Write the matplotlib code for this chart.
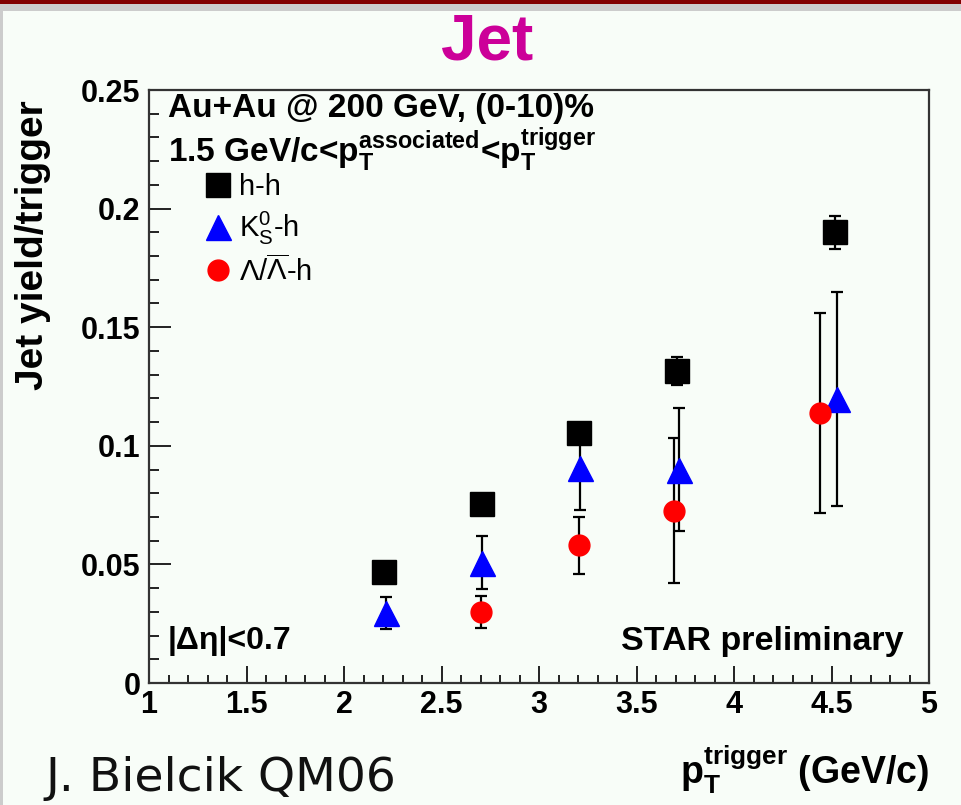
import matplotlib
matplotlib.use("Agg")
import matplotlib.pyplot as plt
from matplotlib.lines import Line2D
from matplotlib.patches import Rectangle
from matplotlib.ticker import MultipleLocator, FixedFormatter, FixedLocator

plt.rcParams['font.family'] = ['Liberation Sans', 'DejaVu Sans']
plt.rcParams['mathtext.fontset'] = 'custom'
plt.rcParams['mathtext.rm'] = 'Liberation Sans'
plt.rcParams['mathtext.it'] = 'Liberation Sans'
plt.rcParams['mathtext.bf'] = 'Liberation Sans:bold'

# ---- data ----
hh_x = [2.205, 2.71, 3.205, 3.71, 4.52]
hh_y = [0.047, 0.0756, 0.1055, 0.1315, 0.190]
hh_err = [0.003, 0.004, 0.004, 0.006, 0.007]

k0s_x = [2.214, 2.71, 3.21, 3.72, 4.53]
k0s_y = [0.0296, 0.0508, 0.0905, 0.0900, 0.1197]
k0s_err = [0.0067, 0.011, 0.0175, 0.026, 0.045]

lam_x = [2.70, 3.205, 3.69, 4.44]
lam_y = [0.0300, 0.058, 0.0726, 0.1138]
lam_err = [0.0067, 0.012, 0.0305, 0.042]

x_ticks = [1, 1.5, 2, 2.5, 3, 3.5, 4, 4.5, 5]
x_tick_labels = ["1", "1.5", "2", "2.5", "3", "3.5", "4", "4.5", "5"]
y_ticks = [0, 0.05, 0.1, 0.15, 0.2, 0.25]
y_tick_labels = ["0", "0.05", "0.1", "0.15", "0.2", "0.25"]

labels = ["h-h", r"K$^{0}_{S}$-h", r"$\Lambda/\overline{\Lambda}$-h"]

bg = '#f8fdf8'
W, H = 961, 805
fig = plt.figure(figsize=(W / 100, H / 100), dpi=100, facecolor=bg)

# slide frame decorations
fig.patches.append(Rectangle((0, 1 - 4 / H), 1, 4 / H, transform=fig.transFigure,
                             facecolor='#820000', edgecolor='none', zorder=0))
fig.patches.append(Rectangle((0, 1 - 11 / H), 1, 7 / H, transform=fig.transFigure,
                             facecolor='#cccccc', edgecolor='none', zorder=0))
fig.patches.append(Rectangle((0, 0), 2.5 / W, 1 - 11 / H, transform=fig.transFigure,
                             facecolor='#cccccc', edgecolor='none', zorder=0))

ax = fig.add_axes([149 / W, 1 - 683 / H, 780 / W, 593 / H])
ax.set_facecolor(bg)
ax.set_xlim(1, 5)
ax.set_ylim(0, 0.25)

ekw = dict(ecolor='black', elinewidth=1.6, capsize=4, capthick=1.6, linestyle='none')
ax.errorbar(hh_x, hh_y, yerr=hh_err, marker='s', ms=17, mfc='black', mec='black', zorder=3, **ekw)
ax.errorbar(k0s_x, k0s_y, yerr=k0s_err, marker='^', ms=18, mfc='#0000ff', mec='#0000ff', zorder=4, **ekw)
ax.errorbar(lam_x, lam_y, yerr=lam_err, marker='o', ms=15, mfc='#ff0000', mec='#ff0000', zorder=4, **ekw)

for s in ax.spines.values():
    s.set_color('#333333')
    s.set_linewidth(1.6)

ax.xaxis.set_major_locator(FixedLocator(x_ticks))
ax.xaxis.set_major_formatter(FixedFormatter(x_tick_labels))
ax.xaxis.set_minor_locator(MultipleLocator(0.1))
ax.yaxis.set_major_locator(FixedLocator(y_ticks))
ax.yaxis.set_major_formatter(FixedFormatter(y_tick_labels))
ax.yaxis.set_minor_locator(MultipleLocator(0.01))

ax.tick_params(axis='x', which='major', direction='in', length=12, width=1.4,
               labelsize=22, pad=5, color='#222222')
ax.tick_params(axis='x', which='minor', direction='in', length=6, width=1.4, color='#222222')
ax.tick_params(axis='y', which='major', direction='in', length=16, width=1.4,
               labelsize=22, pad=6, color='#222222')
ax.tick_params(axis='y', which='minor', direction='in', length=7, width=1.4, color='#222222')
for lab in ax.get_xticklabels() + ax.get_yticklabels():
    lab.set_fontweight('bold')

ax.set_ylabel("Jet yield/trigger", fontsize=28, fontweight='bold')
ax.yaxis.set_label_coords(-0.125, 0.739)

fig.text(929 / W, 1 - 770 / H, r"$\mathbf{p_T^{trigger}}$ (GeV/c)", fontsize=27,
         fontweight='bold', ha='right', va='center')

ax.text(0.024, 0.968, "Au+Au @ 200 GeV, (0-10)%", transform=ax.transAxes,
        fontsize=24, fontweight='bold', ha='left', va='center')
ax.text(0.024, 0.879,
        r"1.5 GeV/c<$\mathbf{p_T^{associated}}$<$\mathbf{p_T^{trigger}}$",
        transform=ax.transAxes, fontsize=24, fontweight='bold', ha='left', va='baseline')
ax.text(0.024, 0.07, "|Δη|<0.7", transform=ax.transAxes, fontsize=23,
        fontweight='bold', ha='left', va='center')
ax.text(0.967, 0.07, "STAR preliminary", transform=ax.transAxes, fontsize=24.5,
        fontweight='bold', ha='right', va='center')

handles = [
    Line2D([], [], marker='s', ms=17, color='black', linestyle='none'),
    Line2D([], [], marker='^', ms=18, color='#0000ff', linestyle='none'),
    Line2D([], [], marker='o', ms=15, color='#ff0000', linestyle='none'),
]
ax.legend(handles, labels, loc='upper left', bbox_to_anchor=(0.055, 0.885),
          frameon=False, fontsize=21, handlelength=0.8, handletextpad=0.3,
          labelspacing=0.3, borderpad=0)

fig.text(487 / W, 1 - 42 / H, "Jet", fontsize=46, fontweight='bold',
         color='#cc0099', ha='center', va='center')
fig.text(45 / W, 1 - 791 / H, "J. Bielcik QM06", fontsize=34,
         family='DejaVu Sans', ha='left', va='baseline', color='#111111')

fig.savefig("out.png", dpi=100, facecolor=bg)
